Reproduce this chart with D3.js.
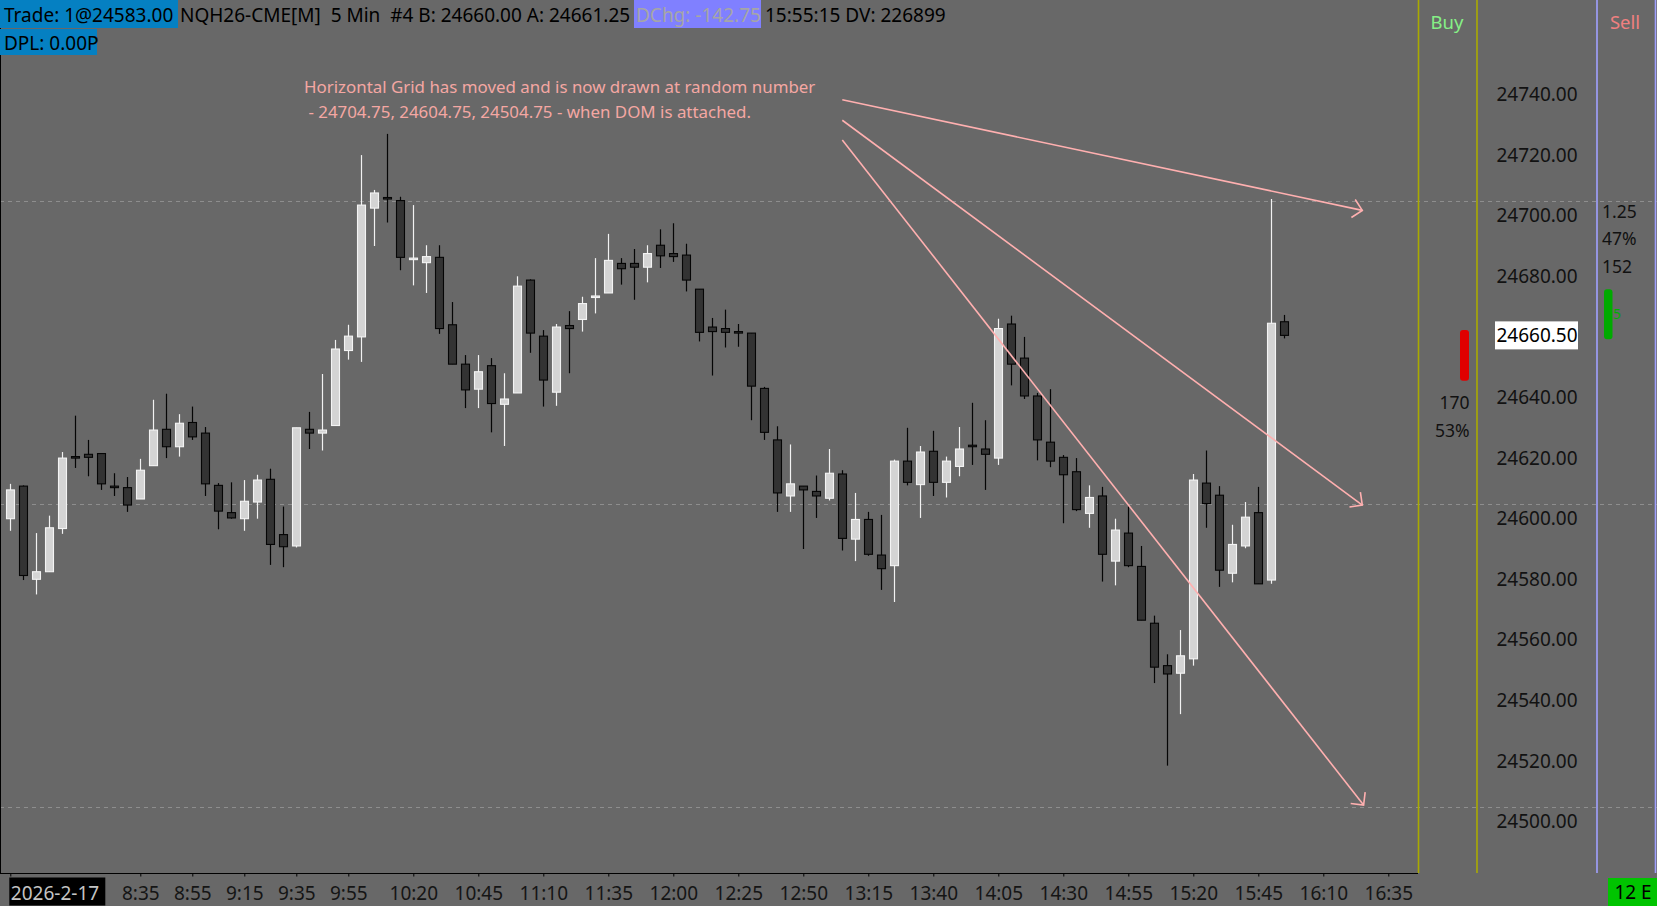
<!DOCTYPE html>
<html>
<head>
<meta charset="utf-8">
<script src="https://cdn.jsdelivr.net/npm/d3@7"></script>
<style>
  html, body { margin: 0; padding: 0; background: #686868; overflow: hidden; }
  svg { display: block; font-family: "Segoe UI", "Noto Sans", sans-serif; }
  text { white-space: pre; }
</style>
</head>
<body>
<svg id="chart"></svg>
<script>
// 5 min bars, first bar 7:45
const opens = [
  24600.00, 24610.75, 24580.00, 24582.50, 24596.75, 24620.50, 24621.25, 24621.50, 24610.75, 24610.25,
  24606.50, 24617.50, 24629.50, 24623.75, 24631.75, 24628.25, 24611.00, 24602.00, 24600.00, 24605.50,
  24613.00, 24594.75, 24591.00, 24629.50, 24628.25, 24630.75, 24655.50, 24660.00, 24702.50, 24706.00,
  24705.00, 24685.50, 24684.50, 24686.25, 24664.00, 24651.00, 24642.75, 24650.50, 24637.75, 24641.50,
  24678.75, 24660.25, 24641.75, 24663.75, 24665.75, 24673.00, 24674.50, 24684.25, 24684.25, 24683.00,
  24690.25, 24687.50, 24687.00, 24675.75, 24663.25, 24662.75, 24661.75, 24661.25, 24643.00, 24626.00,
  24607.50, 24610.75, 24609.00, 24606.75, 24614.75, 24593.25, 24599.75, 24588.00, 24584.50, 24619.00,
  24611.25, 24622.25, 24612.00, 24617.25, 24624.25, 24623.00, 24620.00, 24664.25, 24653.00, 24640.50,
  24625.25, 24620.25, 24615.50, 24601.75, 24607.50, 24586.00, 24595.25, 24584.25, 24565.50, 24551.50,
  24549.00, 24553.75, 24611.75, 24607.75, 24582.00, 24591.00, 24602.00, 24579.75, 24665.00
];
const highs = [
  24611.50, 24611.00, 24595.25, 24601.00, 24622.00, 24634.00, 24626.00, 24621.50, 24615.00, 24613.75,
  24619.75, 24639.25, 24641.25, 24634.50, 24637.00, 24630.25, 24611.75, 24612.00, 24612.75, 24614.50,
  24616.50, 24604.00, 24630.00, 24635.25, 24647.75, 24659.00, 24664.00, 24720.00, 24708.50, 24727.00,
  24706.25, 24703.50, 24690.25, 24690.25, 24671.50, 24654.00, 24654.00, 24653.00, 24648.00, 24680.00,
  24679.00, 24662.25, 24664.25, 24668.50, 24673.25, 24686.00, 24694.00, 24686.00, 24689.00, 24690.25,
  24695.50, 24697.50, 24690.75, 24675.75, 24666.25, 24669.00, 24664.25, 24661.25, 24643.50, 24630.50,
  24624.50, 24610.75, 24614.25, 24623.00, 24616.00, 24608.50, 24602.25, 24601.25, 24619.50, 24630.00,
  24624.00, 24629.00, 24620.50, 24630.25, 24638.25, 24632.50, 24666.00, 24667.00, 24660.00, 24641.50,
  24642.75, 24621.00, 24620.00, 24611.00, 24610.50, 24600.00, 24604.00, 24591.00, 24568.00, 24555.25,
  24563.25, 24614.75, 24622.50, 24610.75, 24598.00, 24605.50, 24610.50, 24705.50, 24667.25
];
const lows = [
  24596.00, 24579.75, 24575.00, 24582.50, 24595.00, 24616.75, 24614.00, 24609.50, 24607.50, 24602.25,
  24606.50, 24617.50, 24620.00, 24620.50, 24626.00, 24607.50, 24596.50, 24600.00, 24596.00, 24600.00,
  24584.75, 24584.00, 24590.50, 24623.00, 24622.50, 24630.75, 24652.50, 24651.75, 24690.00, 24697.75,
  24682.00, 24677.00, 24674.50, 24661.00, 24651.00, 24636.50, 24636.50, 24628.50, 24624.00, 24641.50,
  24654.75, 24637.00, 24637.25, 24648.00, 24661.75, 24667.75, 24674.50, 24677.25, 24672.25, 24678.00,
  24682.75, 24684.75, 24675.00, 24658.50, 24647.25, 24656.50, 24656.75, 24632.50, 24626.00, 24602.25,
  24602.25, 24590.00, 24600.25, 24606.00, 24589.50, 24586.00, 24587.75, 24576.50, 24572.50, 24611.00,
  24600.25, 24607.50, 24607.00, 24614.00, 24617.75, 24609.50, 24617.75, 24644.00, 24639.50, 24619.25,
  24617.00, 24598.50, 24602.50, 24597.00, 24579.25, 24578.00, 24584.00, 24566.50, 24545.75, 24518.50,
  24535.50, 24551.50, 24597.00, 24577.50, 24579.00, 24590.25, 24578.50, 24578.50, 24659.50
];
const closes = [
  24609.50, 24581.25, 24582.50, 24597.00, 24620.00, 24620.00, 24620.25, 24611.50, 24610.25, 24604.50,
  24616.00, 24629.25, 24623.75, 24631.50, 24627.00, 24611.50, 24602.50, 24600.25, 24605.75, 24612.75,
  24591.50, 24590.75, 24630.00, 24628.25, 24629.25, 24656.00, 24660.25, 24703.50, 24707.50, 24705.50,
  24686.25, 24686.00, 24686.50, 24662.75, 24651.00, 24642.50, 24648.50, 24638.00, 24639.50, 24676.75,
  24661.25, 24645.75, 24663.25, 24662.75, 24671.00, 24673.50, 24685.25, 24682.50, 24683.00, 24687.50,
  24686.75, 24686.50, 24678.75, 24661.50, 24661.75, 24661.50, 24661.50, 24643.75, 24628.50, 24608.50,
  24611.50, 24609.50, 24607.50, 24615.00, 24593.50, 24599.75, 24588.25, 24583.50, 24619.00, 24612.00,
  24622.00, 24612.00, 24619.00, 24623.00, 24624.00, 24621.25, 24662.75, 24651.00, 24640.50, 24626.00,
  24619.00, 24614.50, 24603.00, 24607.00, 24588.25, 24596.25, 24584.50, 24566.50, 24551.00, 24548.75,
  24554.75, 24612.75, 24605.00, 24583.00, 24591.50, 24600.50, 24578.50, 24664.50, 24660.50
];

const tickBars = [0, 10, 14, 18, 22, 26, 31, 36, 41, 46, 51, 56, 61, 66, 71, 76, 81, 86, 91, 96, 101, 106];
const tickLabels = ["2026-2-17", "8:35", "8:55", "9:15", "9:35", "9:55", "10:20", "10:45", "11:10", "11:35", "12:00",
  "12:25", "12:50", "13:15", "13:40", "14:05", "14:30", "14:55", "15:20", "15:45", "16:10", "16:35"];

const priceTicks = [24500, 24520, 24540, 24560, 24580, 24600, 24620, 24640, 24660, 24680, 24700, 24720, 24740];
const gridPrices = [24704.75, 24604.75, 24504.75];
const lastPrice = 24660.50;

// drawn arrows: bar index / price at both ends
const arrowFromBar = [64, 64, 64];
const arrowFromPrice = [24738.25, 24731.50, 24725.00];
const arrowToBar = [104, 104, 104.1];
const arrowToPrice = [24701.75, 24604.50, 24505.50];
const noteLines = ["Horizontal Grid has moved and is now drawn at random number",
  " - 24704.75, 24604.75, 24504.75 - when DOM is attached."];

// buy / sell column
const buyBar = [24662.25, 24645.50];
const sellBar = [24675.75, 24659.25];
const buyTexts = ["170", "53%"];
const sellTexts = ["1.25", "47%", "152"];
const sellCount = "5";

const W = 1657, H = 906;
const axisY = 873;
const FONT = '"Segoe UI", "Noto Sans", sans-serif';

const svg = d3.select("#chart").attr("width", W).attr("height", H);

svg.append("rect").attr("width", W).attr("height", H).attr("fill", "#686868");

const x = d3.scaleLinear().domain([0, 106]).range([10.3, 1388.3]);
const y = d3.scaleLinear().domain([24504.75, 24704.75]).range([807.3, 201.3]);

// dashed grid
svg.selectAll(".grid")
  .data(gridPrices)
  .join("line")
  .attr("class", "grid")
  .attr("x1", 0).attr("x2", W)
  .attr("y1", d => Math.round(y(d)) + 0.5)
  .attr("y2", d => Math.round(y(d)) + 0.5)
  .attr("stroke", "#8e8e8e")
  .attr("stroke-dasharray", "4 4");

// candles
const bars = d3.range(opens.length).map(i => ({
  i, o: opens[i], h: highs[i], l: lows[i], c: closes[i], up: closes[i] >= opens[i]
}));

const candles = svg.append("g").attr("class", "candles");

candles.selectAll("line")
  .data(bars)
  .join("line")
  .attr("x1", d => Math.round(x(d.i)) + 0.5)
  .attr("x2", d => Math.round(x(d.i)) + 0.5)
  .attr("y1", d => y(d.h))
  .attr("y2", d => y(d.l))
  .attr("stroke", d => d.up ? "#f2f2f2" : "#050505")
  .attr("stroke-width", 1.2);

candles.selectAll("rect")
  .data(bars)
  .join("rect")
  .attr("x", d => Math.round(x(d.i)) - 3.5)
  .attr("width", 8)
  .attr("y", d => y(Math.max(d.o, d.c)))
  .attr("height", d => Math.max(1.5, Math.abs(y(d.o) - y(d.c))))
  .attr("fill", d => d.up ? "#d4d4d4" : "#333333")
  .attr("stroke", d => d.up ? "#f4f4f4" : "#050505")
  .attr("stroke-width", 1.1);

// plot frame
svg.append("line").attr("x1", 0.5).attr("x2", 0.5).attr("y1", 0).attr("y2", axisY)
  .attr("stroke", "#000").attr("stroke-width", 1);
svg.append("line").attr("x1", 0).attr("x2", 1418).attr("y1", axisY + 0.5).attr("y2", axisY + 0.5)
  .attr("stroke", "#000").attr("stroke-width", 1.2);

// time axis
const xAxis = d3.axisBottom(x)
  .tickValues(tickBars)
  .tickFormat((d, i) => tickLabels[i])
  .tickSize(3)
  .tickPadding(5);

const gx = svg.append("g")
  .attr("transform", `translate(0, ${axisY + 0.5})`)
  .call(xAxis)
  .style("font-family", FONT)
  .style("font-size", "19px");
gx.select(".domain").remove();
gx.selectAll(".tick line").attr("stroke", "#000");
gx.selectAll(".tick text").attr("fill", "#151515").attr("y", 20).attr("dy", "0.32em");

// date stamp on first tick
const firstTick = gx.selectAll(".tick").filter((d, i) => i === 0);
firstTick.select("text").attr("text-anchor", "start").attr("x", 0).attr("fill", "#c4c4c4");
firstTick.insert("rect", "text")
  .attr("x", -1.5).attr("y", 4).attr("width", 96).attr("height", 28)
  .attr("fill", "#000");

// column separators
const sepLines = [
  { x: 1418.5, c: "#aaaa00" }, { x: 1477, c: "#aaaa00" },
  { x: 1597, c: "#a0a0ff" }, { x: 1655.5, c: "#a0a0ff" }
];
svg.selectAll(".sep")
  .data(sepLines)
  .join("line")
  .attr("class", "sep")
  .attr("x1", d => d.x).attr("x2", d => d.x)
  .attr("y1", 0).attr("y2", axisY)
  .attr("stroke", d => d.c)
  .attr("stroke-width", 1.6);

// price axis
const yAxis = d3.axisRight(y)
  .tickValues(priceTicks)
  .tickFormat(d3.format(".2f"))
  .tickSize(0);

const gy = svg.append("g")
  .attr("transform", "translate(1537, 0)")
  .call(yAxis)
  .style("font-family", FONT)
  .style("font-size", "19px");
gy.select(".domain").remove();
gy.selectAll(".tick text").attr("x", 0).attr("text-anchor", "middle").attr("fill", "#121212");

// last price box
svg.append("rect")
  .attr("x", 1495).attr("y", y(lastPrice) - 14)
  .attr("width", 83).attr("height", 28)
  .attr("fill", "#fff");
svg.append("text")
  .attr("x", 1537).attr("y", y(lastPrice)).attr("dy", "0.35em")
  .attr("text-anchor", "middle")
  .attr("font-size", 19).attr("fill", "#000")
  .text(d3.format(".2f")(lastPrice));

// buy / sell headers
svg.append("text").attr("x", 1447).attr("y", 23).attr("dy", "0.35em")
  .attr("text-anchor", "middle").attr("font-size", 18.5).attr("fill", "#86f086").text("Buy");
svg.append("text").attr("x", 1625).attr("y", 23).attr("dy", "0.35em")
  .attr("text-anchor", "middle").attr("font-size", 18.5).attr("fill", "#f08080").text("Sell");

svg.append("rect")
  .attr("x", 1460).attr("width", 9)
  .attr("y", y(buyBar[0])).attr("height", y(buyBar[1]) - y(buyBar[0]))
  .attr("rx", 3).attr("fill", "#e00000");
svg.selectAll(".buyTxt")
  .data(buyTexts)
  .join("text")
  .attr("class", "buyTxt")
  .attr("x", 1469.5).attr("y", (d, i) => y(buyBar[1]) + 22 + i * 28.5).attr("dy", "0.35em")
  .attr("text-anchor", "end").attr("font-size", 17.5).attr("fill", "#111")
  .text(d => d);

svg.append("rect")
  .attr("x", 1604).attr("width", 8.5)
  .attr("y", y(sellBar[0])).attr("height", y(sellBar[1]) - y(sellBar[0]))
  .attr("rx", 3).attr("fill", "#00aa00");
svg.append("text")
  .attr("x", 1613).attr("y", (y(sellBar[0]) + y(sellBar[1])) / 2).attr("dy", "0.35em")
  .attr("font-size", 14).attr("fill", "#00b000")
  .text(sellCount);
svg.selectAll(".sellTxt")
  .data(sellTexts)
  .join("text")
  .attr("class", "sellTxt")
  .attr("x", 1602).attr("y", (d, i) => y(sellBar[0]) - 77.5 + i * 27.5).attr("dy", "0.35em")
  .attr("font-size", 17.5).attr("fill", "#111")
  .text(d => d);

// bottom right badge
svg.append("rect").attr("x", 1608).attr("y", 878).attr("width", 49).attr("height", 28).attr("fill", "#00c400");
svg.append("text").attr("x", 1633).attr("y", 892).attr("dy", "0.35em")
  .attr("text-anchor", "middle").attr("font-size", 19).attr("fill", "#000").text("12 E");

// annotation
svg.selectAll(".note")
  .data(noteLines)
  .join("text")
  .attr("class", "note")
  .attr("x", 304).attr("y", (d, i) => 87.5 + i * 25).attr("dy", "0.35em")
  .attr("font-size", 16.9).attr("fill", "#f4a7a3")
  .text(d => d);

const arrows = arrowFromBar.map((b, i) => ({
  x1: x(b), y1: y(arrowFromPrice[i]), x2: x(arrowToBar[i]), y2: y(arrowToPrice[i])
}));
const arrowG = svg.append("g").attr("stroke", "#ffb0b0").attr("stroke-width", 1.6).attr("fill", "none");
arrows.forEach(a => {
  arrowG.append("line").attr("x1", a.x1).attr("y1", a.y1).attr("x2", a.x2).attr("y2", a.y2);
  const ang = Math.atan2(a.y2 - a.y1, a.x2 - a.x1);
  const len = 13;
  const p = d3.path();
  p.moveTo(a.x2 - len * Math.cos(ang - Math.PI / 4), a.y2 - len * Math.sin(ang - Math.PI / 4));
  p.lineTo(a.x2, a.y2);
  p.lineTo(a.x2 - len * Math.cos(ang + Math.PI / 4), a.y2 - len * Math.sin(ang + Math.PI / 4));
  arrowG.append("path").attr("d", p.toString());
});

// header
const header = svg.append("g").attr("font-size", 19);
header.append("rect").attr("x", 0).attr("y", 0).attr("width", 178).attr("height", 28).attr("fill", "#0580c2");
header.append("rect").attr("x", 634).attr("y", 0).attr("width", 127).attr("height", 28).attr("fill", "#8080ff");
header.append("rect").attr("x", 0).attr("y", 29).attr("width", 97).attr("height", 26).attr("fill", "#0580c2");

const headerTexts = [
  { t: "Trade: 1@24583.00", x: 4, y: 15.5, c: "#000" },
  { t: "NQH26-CME[M]  5 Min  #4 B: 24660.00 A: 24661.25", x: 180, y: 15.5, c: "#000" },
  { t: "DChg: -142.75", x: 636, y: 15.5, c: "#a6a6a6" },
  { t: "15:55:15 DV: 226899", x: 765, y: 15.5, c: "#000" },
  { t: "DPL: 0.00P", x: 4, y: 43, c: "#000" }
];
header.selectAll("text")
  .data(headerTexts)
  .join("text")
  .attr("x", d => d.x).attr("y", d => d.y).attr("dy", "0.35em")
  .attr("fill", d => d.c)
  .text(d => d.t);
</script>
</body>
</html>
